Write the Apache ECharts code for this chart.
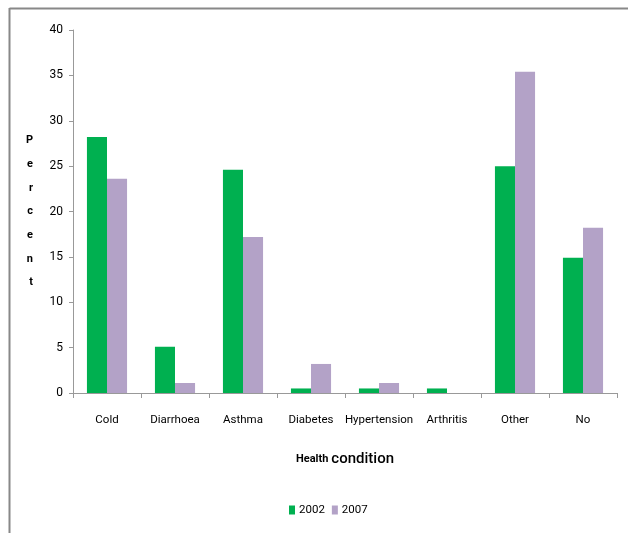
<!DOCTYPE html>
<html><head><meta charset="utf-8">
<script src="https://cdn.jsdelivr.net/npm/echarts@6/dist/echarts.min.js"></script>
<style>html,body{margin:0;padding:0;background:#fff}#c{width:628px;height:533px}</style>
</head><body><div id="c"></div>
<script>
const categories = ['Cold','Diarrhoea','Asthma','Diabetes','Hypertension','Arthritis','Other','No'];
const values2002 = [28.2, 5.1, 24.6, 0.5, 0.5, 0.5, 25.0, 14.9];
const values2007 = [23.6, 1.1, 17.2, 3.2, 1.1, 0, 35.4, 18.2];
const seriesNames = ['2002','2007'];
const FONT = 'Roboto, "Liberation Sans", sans-serif';
const chart = echarts.init(document.getElementById('c'));
chart.setOption({
  animation:false,
  textStyle:{fontFamily:FONT},
  graphic:[
    {type:'line',shape:{x1:9.5,y1:8.5,x2:628,y2:8.5},style:{stroke:'#888',lineWidth:2}},
    {type:'line',shape:{x1:9.5,y1:8,x2:9.5,y2:533},style:{stroke:'#888',lineWidth:2}}
  ],
  grid:{left:73,right:11,top:30,bottom:140},
  legend:{
    bottom:12,left:284,itemWidth:6,itemHeight:9,itemGap:7,
    icon:'rect',
    textStyle:{fontFamily:FONT,fontSize:11.5,color:'#000',padding:[0,0,0,-1]},
    data:seriesNames
  },
  xAxis:{
    type:'category',data:categories,
    axisLine:{lineStyle:{color:'#999'}},
    axisTick:{show:true,length:5,lineStyle:{color:'#999'}},
    axisLabel:{color:'#000',fontSize:11.5,margin:21,interval:0,fontFamily:FONT},
    name:'{a|Health} {b|condition}',nameLocation:'middle',nameGap:59,
    nameTextStyle:{rich:{
      a:{fontSize:11,fontWeight:'bold',fontFamily:FONT,color:'#000'},
      b:{fontSize:15,fontWeight:500,fontFamily:FONT,color:'#000'}
    }}
  },
  yAxis:{
    type:'value',min:0,max:40,interval:5,
    axisLine:{show:true,lineStyle:{color:'#999'}},
    axisTick:{show:true,length:4,lineStyle:{color:'#999'}},
    splitLine:{show:false},
    axisLabel:{color:'#000',fontSize:12,margin:10,fontFamily:FONT},
    name:'P\ne\nr\nc\ne\nn\nt',nameLocation:'middle',nameRotate:0,nameGap:40,
    nameTextStyle:{fontSize:11,fontWeight:'bold',lineHeight:23.7,color:'#000',fontFamily:FONT,padding:[6,0,0,0]}
  },
  series:[
    {name:seriesNames[0],type:'bar',data:values2002,barGap:'0%',barCategoryGap:'41%',
     itemStyle:{color:'#00B050'}},
    {name:seriesNames[1],type:'bar',data:values2007,
     itemStyle:{color:'#B3A2C7'}}
  ]
});
</script></body></html>
